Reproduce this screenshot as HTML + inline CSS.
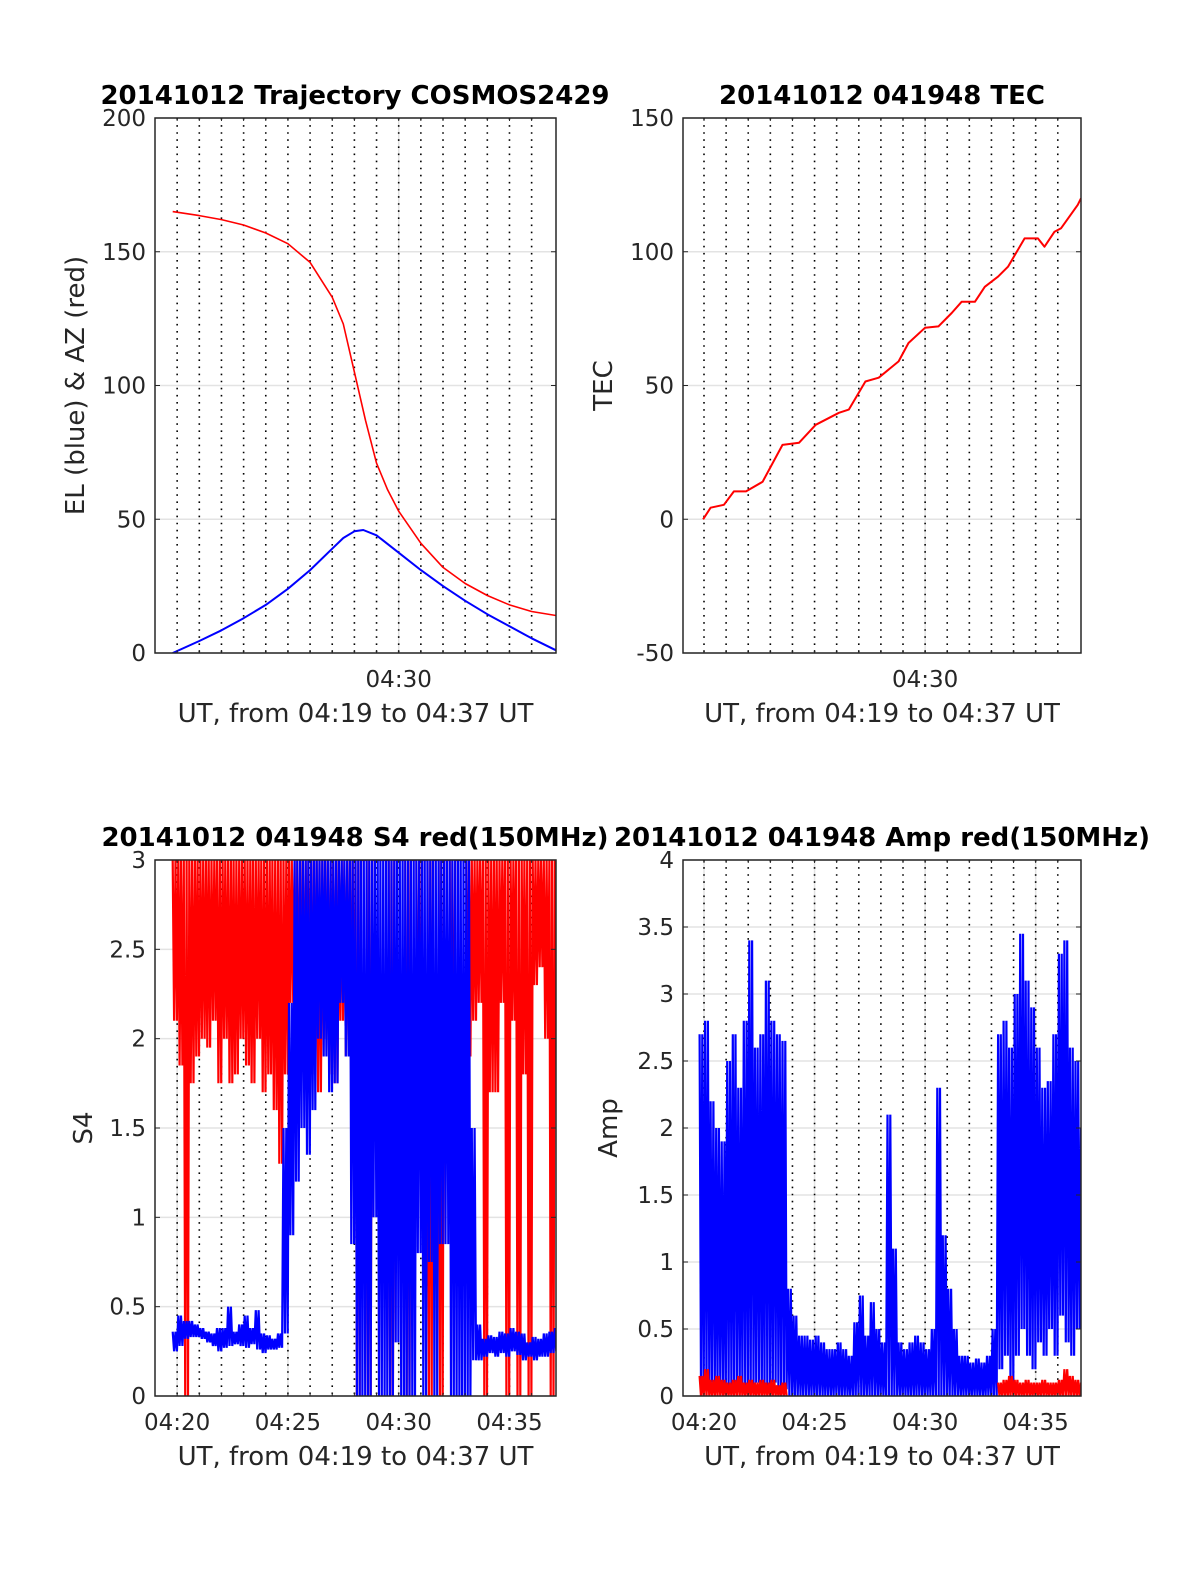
<!DOCTYPE html>
<html><head><meta charset="utf-8">
<style>
html,body{margin:0;padding:0;background:#fff;}
svg{display:block;font-family:"DejaVu Sans","Liberation Sans",sans-serif;}
</style></head>
<body>
<svg id="fig" width="1200" height="1575" viewBox="0 0 1200 1575" xmlns="http://www.w3.org/2000/svg"></svg>
<script>
// ---- data (time in minutes after 04:00) ----
const trajT = [19.8,21,22,23,24,25,26,27,27.5,28,28.5,29,29.5,30,31,32,33,34,35,36,37.1];
const azVals = [165,163.5,162,160,157,153,146,133,123,105,87,71,61,53,41,32,26,21.5,18,15.5,14];
const elT = [19.8,21,22,23,24,25,26,27,27.5,28,28.4,29,30,31,32,33,34,35,36,37.1];
const elVals = [0,4.5,8.5,13,18,24,31,39,43,45.5,46,44,37.5,31,25,19.5,14.5,10,5.5,1];
const tecT = [19.96,20.3,20.9,21.35,21.9,22.65,23.55,24.3,25.05,26.1,26.55,27.3,27.9,28.8,29.25,30.0,30.6,31.2,31.65,32.25,32.7,33.3,33.75,34.5,35.1,35.4,35.85,36.15,36.9,37.05];
const tecVals = [0,4.3,5.4,10.4,10.4,14,27.8,28.6,35.3,39.8,41,51.5,52.9,59,65.9,71.6,72.1,77.1,81.3,81.3,86.9,90.7,94.4,105,105,101.9,107.5,108.8,117.5,120];
// binned series: bin i at time 19.8 + 0.25*i (70 bins)
const binStart = 19.8, binStep = 0.25;
const s4RedLo = [2.1,1.85,0,1.75,1.9,2.0,1.95,2.1,1.75,2.0,1.75,1.8,2.0,1.85,1.75,2.0,1.7,1.8,1.6,1.3,1.8,2.2,2.0,1.9,2.1,1.8,1.7,2.0,1.8,1.75,2.1,1.9,1.6,
  0,3,0,3,3,3,0,3,3,0,3,1.2,3,0,3,0,3,1.0,3,3,
  1.9,2.1,2.2,0,1.7,1.7,2.2,0,2.1,0,1.8,0,2.3,2.4,2.0,0,2.3];
const s4RedHi = [3,3,3,3,3,3,3,3,3,3,3,3,3,3,3,3,3,3,3,3,3,3,3,3,3,3,3,3,3,3,3,3,3,3,3,3,3,3,3,3,3,3,3,3,3,3,3,3,3,3,3,3,3,3,3,3,3,3,3,3,3,3,3,3,3,3,3,3,3,3];
const s4BlueLo = [0.25,0.28,0.32,0.33,0.33,0.32,0.30,0.28,0.25,0.27,0.28,0.29,0.28,0.27,0.29,0.26,0.24,0.26,0.26,0.27,
  0.35,0.9,1.2,1.5,1.35,1.6,2.0,1.9,1.7,1.75,2.2,1.9,0.85,
  0,0,0,1.0,0,0,0,0.3,0,0,0,0.8,0,0.75,0,0.85,0.85,0,0,0,
  0,0.2,0.2,0.22,0.24,0.22,0.24,0.22,0.25,0.23,0.2,0.22,0.2,0.22,0.22,0.24,0.25];
const s4BlueHi = [0.36,0.45,0.42,0.42,0.40,0.38,0.36,0.35,0.38,0.38,0.50,0.36,0.40,0.45,0.38,0.48,0.35,0.34,0.32,0.35,
  1.5,2.2,3,3,3,3,3,3,3,3,3,3,3,
  3,3,3,3,3,3,3,3,3,3,3,3,3,3,3,3,3,3,3,3,
  3,1.5,0.4,0.32,0.34,0.33,0.36,0.35,0.38,0.36,0.35,0.3,0.33,0.32,0.35,0.36,0.38];
const ampBlueHi = [2.7,2.8,2.2,2.0,1.9,2.5,2.7,2.3,2.8,3.4,2.6,2.7,3.1,2.8,2.7,2.65,0.8,0.6,0.45,0.45,0.42,0.45,0.4,0.35,0.35,0.4,0.35,0.3,0.55,0.75,0.45,0.7,0.5,0.4,2.1,1.1,0.4,0.35,0.4,0.45,0.4,0.35,0.5,2.3,1.2,0.8,0.5,0.3,0.3,0.25,0.28,0.25,0.3,0.5,2.7,2.8,2.6,3.0,3.45,3.1,2.9,2.6,2.3,2.35,2.7,3.3,3.4,2.6,2.5,2.0];
const ampBlueLo = [0.05,0.05,0.1,0.05,0.05,0.05,0.1,0.05,0.05,0.05,0.1,0.05,0.05,0.1,0.05,0.05,0,0,0,0,0,0,0,0,0,0,0,0,0,0,0,0,0,0,0,0,0,0,0,0,0,0,0,0,0,0,0,0,0,0,0,0,0,0,0.2,0.3,0.1,0.3,0.5,0.3,0.2,0.4,0.3,0.5,0.3,0.6,0.4,0.3,0.5,0.4];
const ampRedHi = [0.15,0.2,0.12,0.15,0.12,0.1,0.12,0.15,0.1,0.12,0.1,0.12,0.1,0.12,0.08,0.1,
  0,0,0,0,0,0,0,0,0,0,0,0,0,0,0,0,0,0,0,0,0,0,0,0,0,0,0,0,0,0,0,0,0,0,0,0,0,0,
  0.1,0.12,0.15,0.12,0.1,0.12,0.1,0.1,0.12,0.1,0.1,0.12,0.2,0.15,0.12,0.1];
const ampRedLo = ampRedHi.map(() => 0);

const NS = "http://www.w3.org/2000/svg";
const svg = document.getElementById('fig');
const TICK_FS = 23, LABEL_FS = 26, TITLE_FS = 26;
function mk(tag, attrs, parent){
  const e = document.createElementNS(NS, tag);
  for (const k in attrs) e.setAttribute(k, attrs[k]);
  (parent||svg).appendChild(e);
  return e;
}
function makeAxes(o){
  const g = mk('g', {});
  
  
  const xs = t => o.x0 + (t - o.t0) / (o.t1 - o.t0) * (o.x1 - o.x0);
  const ys = v => o.y1 - (v - o.v0) / (o.v1 - o.v0) * (o.y1 - o.y0);
  o.yTicks.forEach(v => {
    const l = mk('line', {x1:o.x0, x2:o.x1, y1:ys(v), y2:ys(v), stroke:'#e3e3e3', 'stroke-width':1.5}, g);
    
    
  });
  o.xTicks.forEach(t => {
    const l = mk('line', {x1:xs(t), x2:xs(t), y1:o.y0, y2:o.y1, stroke:'#e3e3e3', 'stroke-width':1.5}, g);
    
    
  });
  for (let m = 20; m <= 36; m++){
    const l = mk('line', {x1:xs(m), x2:xs(m), y1:o.y0, y2:o.y1, stroke:'#000', 'stroke-width':1.6, 'stroke-dasharray':'1.6 5.5'}, g);
    
    
  }
  const plot = mk('g', {}, g);
  
  
  const clipId = 'c' + o.name;
  const cp = mk('clipPath', {id: clipId}, g);
  mk('rect', {x:o.x0, y:o.y0, width:o.x1-o.x0, height:o.y1-o.y0}, cp);
  plot.setAttribute('clip-path', 'url(#' + clipId + ')');
  const box = mk('rect', {x:o.x0, y:o.y0, width:o.x1-o.x0, height:o.y1-o.y0, fill:'none', stroke:'#262626', 'stroke-width':1.5}, g);
  
  
  o.yTicks.forEach((v, i) => {
    mk('line', {x1:o.x0, x2:o.x0+5, y1:ys(v), y2:ys(v), stroke:'#262626'}, g);
    mk('line', {x1:o.x1, x2:o.x1-5, y1:ys(v), y2:ys(v), stroke:'#262626'}, g);
    const tx = mk('text', {x:o.x0-9, y:ys(v)+8, 'text-anchor':'end', 'font-size':TICK_FS, fill:'#262626'}, g);
    tx.textContent = o.yLabels[i];
    
    
  });
  for (let m = 20; m <= 36; m++){
    mk('line', {x1:xs(m), x2:xs(m), y1:o.y1, y2:o.y1-3, stroke:'#262626'}, g);
    mk('line', {x1:xs(m), x2:xs(m), y1:o.y0, y2:o.y0+3, stroke:'#262626'}, g);
  }
  o.xTicks.forEach((t, i) => {
    const tx = mk('text', {x:xs(t), y:o.y1+34, 'text-anchor':'middle', 'font-size':TICK_FS, fill:'#262626'}, g);
    tx.textContent = o.xLabels[i];
    
    
  });
  const xl = mk('text', {x:(o.x0+o.x1)/2, y:o.y1+69, 'text-anchor':'middle', 'font-size':LABEL_FS, fill:'#262626'}, g);
  xl.textContent = 'UT, from 04:19 to 04:37 UT';
  
  
  const yl = mk('text', {x:0, y:0, 'text-anchor':'middle', 'font-size':LABEL_FS, fill:'#262626', transform:'translate(' + o.ylx + ',' + ((o.y0+o.y1)/2) + ') rotate(-90)'}, g);
  yl.textContent = o.ylabel;
  
  
  const ti = mk('text', {x:o.titleX, y:o.y0-14, 'text-anchor':'middle', 'font-size':TITLE_FS, 'font-weight':'bold', fill:'#000'}, g);
  ti.textContent = o.title;
  
  
  return {xs, ys, plot};
}
function line(ax, ts, vs, color, name, w){
  const p = ts.map((t,i) => ax.xs(t).toFixed(1) + ',' + ax.ys(vs[i]).toFixed(1)).join(' ');
  const e = mk('polyline', {points:p, fill:'none', stroke:color, 'stroke-width':w||1.6, 'stroke-linejoin':'round'}, ax.plot);
  
  
}
function band(ax, lo, hi, color, name){
  const segs = [];
  let pts = [];
  for (let i = 0; i < hi.length; i++){
    const t = binStart + binStep * i;
    if (hi[i] <= 0 && lo[i] <= 0){ if (pts.length) segs.push(pts); pts = []; continue; }
    for (let k = 0; k < 2; k++){
      const tt = t + k * binStep / 2;
      pts.push(ax.xs(tt).toFixed(1) + ',' + ax.ys(hi[i]).toFixed(1));
      pts.push(ax.xs(tt + binStep/4).toFixed(1) + ',' + ax.ys(lo[i]).toFixed(1));
    }
  }
  if (pts.length) segs.push(pts);
  segs.forEach(s => {
    const e = mk('polyline', {points:s.join(' '), fill:'none', stroke:color, 'stroke-width':2.2}, ax.plot);
    
    
  });
}

const L = {x0:155, x1:556, t0:19.0, t1:37.1};
const R = {x0:683, x1:1081, t0:19.05, t1:37.05};

const a1 = makeAxes(Object.assign({name:'trajectory-chart', y0:118, y1:653, v0:0, v1:200, yTicks:[0,50,100,150,200], yLabels:['0','50','100','150','200'], xTicks:[30], xLabels:['04:30'], ylabel:'EL (blue) & AZ (red)', ylx:84, title:'20141012 Trajectory COSMOS2429', titleX:355}, L));
line(a1, trajT, azVals, '#ff0000', 'azimuth-line');
line(a1, elT, elVals, '#0000ff', 'elevation-line', 2);

const a2 = makeAxes(Object.assign({name:'tec-chart', y0:118, y1:653, v0:-50, v1:150, yTicks:[-50,0,50,100,150], yLabels:['-50','0','50','100','150'], xTicks:[30], xLabels:['04:30'], ylabel:'TEC', ylx:612, title:'20141012 041948 TEC', titleX:882}, R));
line(a2, tecT, tecVals, '#ff0000', 'tec-line', 2);

const a3 = makeAxes(Object.assign({name:'s4-chart', y0:860, y1:1396, v0:0, v1:3, yTicks:[0,0.5,1,1.5,2,2.5,3], yLabels:['0','0.5','1','1.5','2','2.5','3'], xTicks:[20,25,30,35], xLabels:['04:20','04:25','04:30','04:35'], ylabel:'S4', ylx:92, title:'20141012 041948 S4 red(150MHz)', titleX:355}, L));
band(a3, s4RedLo, s4RedHi, '#ff0000', 's4-red-series');
band(a3, s4BlueLo, s4BlueHi, '#0000ff', 's4-blue-series');

const a4 = makeAxes(Object.assign({name:'amp-chart', y0:860, y1:1396, v0:0, v1:4, yTicks:[0,0.5,1,1.5,2,2.5,3,3.5,4], yLabels:['0','0.5','1','1.5','2','2.5','3','3.5','4'], xTicks:[20,25,30,35], xLabels:['04:20','04:25','04:30','04:35'], ylabel:'Amp', ylx:617, title:'20141012 041948 Amp red(150MHz)', titleX:882}, R));
band(a4, ampBlueLo, ampBlueHi, '#0000ff', 'amp-blue-series');
band(a4, ampRedLo, ampRedHi, '#ff0000', 'amp-red-series');
</script>
</body></html>
